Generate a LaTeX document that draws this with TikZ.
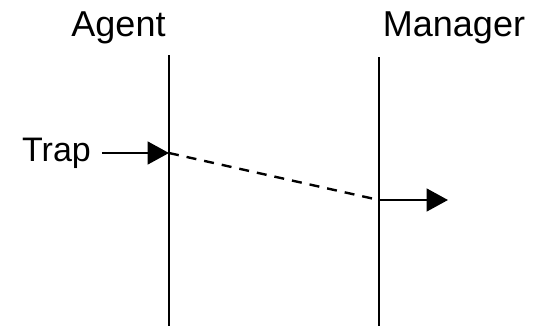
\documentclass[tikz,border=0pt]{standalone}
\usepackage{fontspec}
\setmainfont{Liberation Sans}
\usetikzlibrary{arrows.meta}
\usetikzlibrary{positioning}

\begin{document}
\begin{tikzpicture}[x=0.75pt, y=-0.75pt,
                lifeline/.style={line width=1.8pt},
                msg/.style={line width=1.8pt, -{Triangle[length=16pt, width=17pt]}},
                lifename/.style={inner sep=0pt, anchor=base, font=\fontsize{27}{32}\selectfont}]
                \useasboundingbox (0, 0) rectangle (536, 326);
                \node[lifename] (agent) at (118.5, 36) {Agent};
                \node[lifename] (manager) at (454, 36) {Manager};
                \node[inner xsep=8pt, inner ysep=0pt, font=\fontsize{25.5}{30}\selectfont] (trap) at (56.5, 153) {Trap};
                \coordinate (agenttop) at (169, 55);
                \coordinate (agentbot) at (169, 326);
                \coordinate (managertop) at (379, 57);
                \coordinate (managerbot) at (379, 326);
                \coordinate (sent) at (169, 153);
                \coordinate (recv) at (379, 200);
                \coordinate (out) at (448, 200);
                \draw[lifeline] (agenttop) -- (agentbot);
                \draw[lifeline] (managertop) -- (managerbot);
                \draw[msg] (trap) -- (sent);
                \draw[line width=1.8pt, dash pattern=on 7.5pt off 6pt] (sent) -- (recv);
                \draw[msg] (recv) -- (out);
\end{tikzpicture}
\end{document}
